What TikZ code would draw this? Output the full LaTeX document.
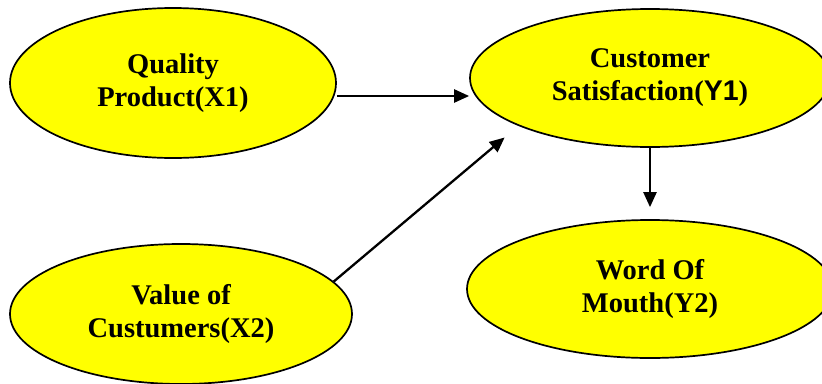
\documentclass[tikz,border=0pt]{standalone}
\usepackage{fontspec}
\setmainfont{Liberation Serif}
\newfontfamily\sansbold{Liberation Sans}
\usetikzlibrary{shapes.geometric,arrows.meta}
\definecolor{constructfill}{RGB}{255,255,0}

\tikzset{
  construct/.style={ellipse, draw=black, line width=1.7pt, fill=constructfill,
    inner sep=0pt, align=center,
    font=\bfseries\fontsize{28.5}{33}\selectfont},
  link/.style={line width=2.3pt, -{Triangle[length=15pt,width=13pt]}}
}

\begin{document}
\begin{tikzpicture}[x=1pt,y=-1pt]
  \useasboundingbox (0,0) rectangle (822,383);

  % latent constructs
  \node[construct, minimum width=326pt, minimum height=150pt] (qp) at (173,83)
    {Quality\\Product(X1)};
  \node[construct, minimum width=360pt, minimum height=138pt] (cs) at (650,78)
    {Customer\\Satisfaction({\sansbold Y1})};
  \node[construct, minimum width=342pt, minimum height=140pt] (vc) at (181,314)
    {Value of\\Custumers(X2)};
  \node[construct, minimum width=366pt, minimum height=138pt] (wm) at (650,289)
    {Word Of\\Mouth(Y2)};

  % paths between constructs
  \draw[link] ([yshift=-13pt]qp.east) -- ([yshift=-13pt]qp.east -| cs.west);
  \draw[link, shorten >=18pt] (vc.12) -- (cs.200);
  \draw[link, shorten >=12pt] (cs.south) -- (wm.north);
\end{tikzpicture}
\end{document}
